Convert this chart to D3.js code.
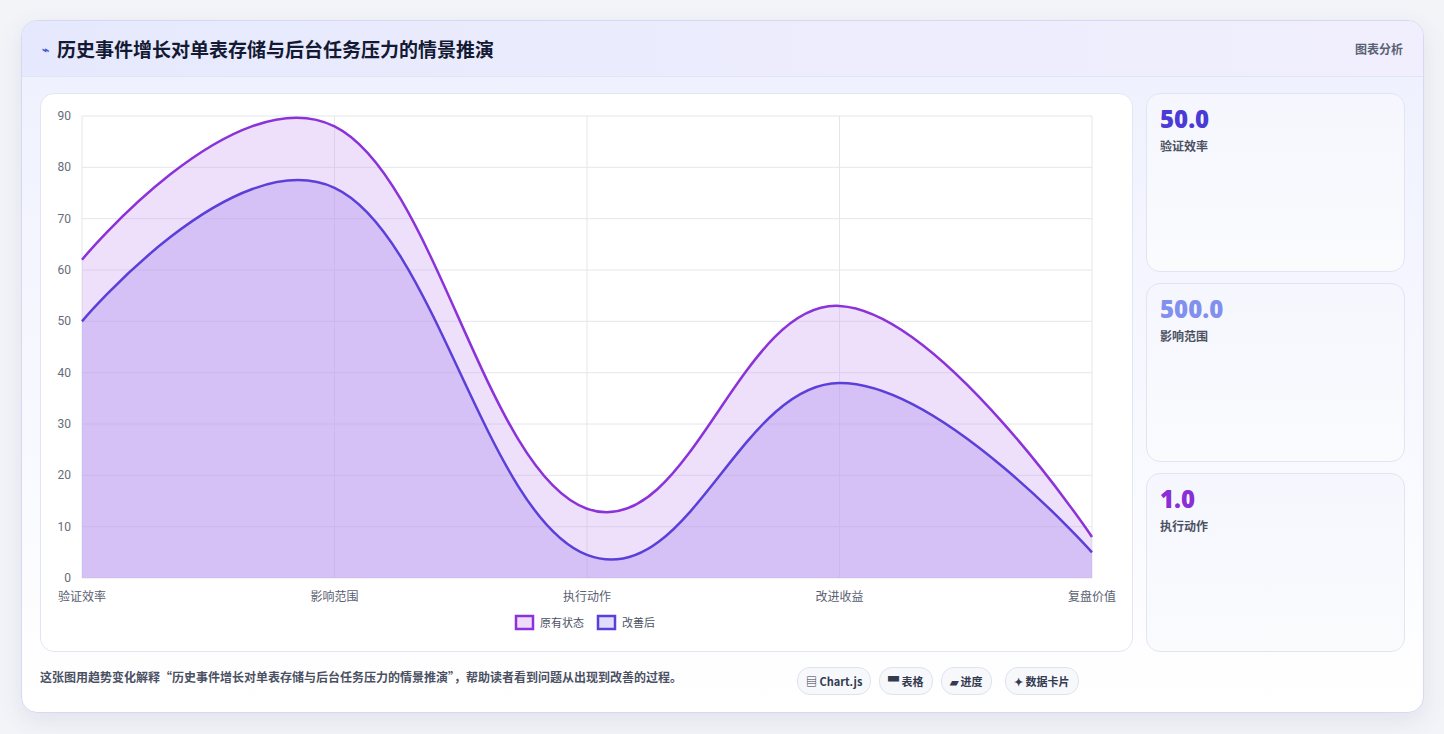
<!DOCTYPE html>
<html><head><meta charset="utf-8">
<script src="https://cdn.jsdelivr.net/npm/d3@7/dist/d3.min.js"></script>
<style>
body{margin:0;background:#f3f4f8;font-family:"Noto Sans CJK SC","Noto Sans",sans-serif;width:1444px;height:734px;overflow:hidden}
.card{position:absolute;left:21px;top:20px;width:1401px;height:691px;border:1px solid #d6daf0;border-radius:16px;background:linear-gradient(180deg,#eef0fe 0%,#f8f9ff 60%,#fff 100%);box-shadow:0 8px 24px rgba(80,80,140,.1);overflow:hidden}
.head{height:55px;border-bottom:1px solid #e1e4f5;background:linear-gradient(90deg,#e6e9fd,#f1effd);position:relative}
.head h1{margin:0;position:absolute;left:20px;top:14px;font-size:19px;font-weight:700;color:#141a33}
.head h1 span{color:#4059d8;font-size:12px;margin-right:8px;vertical-align:3px}
.head .r{position:absolute;right:20px;top:19px;font-size:12px;color:#5a6174;font-weight:600}
.panel{position:absolute;left:18px;top:72px;width:1091px;height:557px;background:#fff;border:1px solid #e3e6f0;border-radius:14px}
.stat{position:absolute;left:1124px;width:257px;height:177px;border:1px solid #e1e5f2;border-radius:14px;background:linear-gradient(180deg,#f6f7fe,#fafbfd)}
.stat b{position:absolute;left:13px;top:8px;font-size:24px;font-family:"Open Sans",sans-serif;font-weight:800}
.stat i{position:absolute;left:13px;top:43px;font-style:normal;font-size:12px;color:#4b5163;font-weight:600}
.note{position:absolute;left:18px;top:647px;font-size:12px;color:#4b5163;font-weight:600}
.pill{position:absolute;top:646px;height:26px;line-height:26px;border:1px solid #e0e3ea;border-radius:13px;background:#f7f8fb;font-size:11px;font-weight:700;color:#333b4f;padding:0 8px}
</style></head><body>
<div class="card">
<div class="head"><h1><span>⌁</span>历史事件增长对单表存储与后台任务压力的情景推演</h1><div class="r">图表分析</div></div>
<div class="panel"><svg id="chart" width="1091" height="557"></svg></div>
<div class="stat" style="top:72px"><b style="color:#4a3bd6">50.0</b><i>验证效率</i></div>
<div class="stat" style="top:262px"><b style="color:#8190ef">500.0</b><i>影响范围</i></div>
<div class="stat" style="top:452px"><b style="color:#8a2fd8">1.0</b><i>执行动作</i></div>
<div class="note">这张图用趋势变化解释“历史事件增长对单表存储与后台任务压力的情景推演”，帮助读者看到问题从出现到改善的过程。</div>
<div class="pill" style="left:775px">▤ Chart.js</div>
<div class="pill" style="left:857px">▀ 表格</div>
<div class="pill" style="left:919px">▰ 进度</div>
<div class="pill" style="left:983px">✦ 数据卡片</div>
</div>
<script>
var categories = ['验证效率', '影响范围', '执行动作', '改进收益', '复盘价值'],
    original = [62, 88, 13.5, 53, 8],
    improved = [50, 76, 4.5, 38, 5],
    yTicks = [0, 10, 20, 30, 40, 50, 60, 70, 80, 90];

(function () {
    var svg = d3.select('#chart'),
        left = 41, right = 1051, topY = 22, bottom = 484;

    var x = d3.scalePoint().domain(categories).range([left, right]);
    var y = d3.scaleLinear().domain([0, 90]).range([bottom, topY]);

    var grid = svg.append('g');
    yTicks.forEach(function (t) {
        grid.append('line').attr('x1', left).attr('x2', right).attr('y1', y(t)).attr('y2', y(t))
            .attr('stroke', '#e4e6ea');
        grid.append('text').attr('x', left - 11).attr('y', y(t) + 4).attr('text-anchor', 'end')
            .attr('font-size', 12).attr('fill', '#666c7a').attr('font-family', 'Roboto').text(t);
    });
    categories.forEach(function (c) {
        grid.append('line').attr('x1', x(c)).attr('x2', x(c)).attr('y1', topY).attr('y2', bottom)
            .attr('stroke', '#e4e6ea');
        grid.append('text').attr('x', x(c)).attr('y', bottom + 23).attr('text-anchor', 'middle')
            .attr('font-size', 12).attr('fill', '#5a6072').text(c);
    });

    var curve = d3.curveCardinal.tension(-0.2);
    function draw(vals, fill, stroke) {
        var area = d3.area().x(function (d, i) { return x(categories[i]); })
            .y0(bottom).y1(function (d) { return y(d); }).curve(curve);
        var line = d3.line().x(function (d, i) { return x(categories[i]); })
            .y(function (d) { return y(d); }).curve(curve);
        svg.append('path').attr('d', area(vals)).attr('fill', fill);
        svg.append('path').attr('d', line(vals)).attr('fill', 'none').attr('stroke', stroke).attr('stroke-width', 2.5);
    }
    draw(original, 'rgba(203,160,240,0.33)', '#8b32d9');
    draw(improved, 'rgba(180,150,240,0.42)', '#5b3fd9');

    var legend = [['原有状态', '#8b32d9', '#efdcfa'], ['改善后', '#5b3fd9', '#e2dcfb']];
    var lx = [475, 557];
    legend.forEach(function (l, i) {
        svg.append('rect').attr('x', lx[i]).attr('y', 522).attr('width', 17).attr('height', 13)
            .attr('fill', l[2]).attr('stroke', l[1]).attr('stroke-width', 2.5);
        svg.append('text').attr('x', lx[i] + 24).attr('y', 533).attr('font-size', 11)
            .attr('fill', '#4b5163').text(l[0]);
    });
})();
</script>
</body></html>
